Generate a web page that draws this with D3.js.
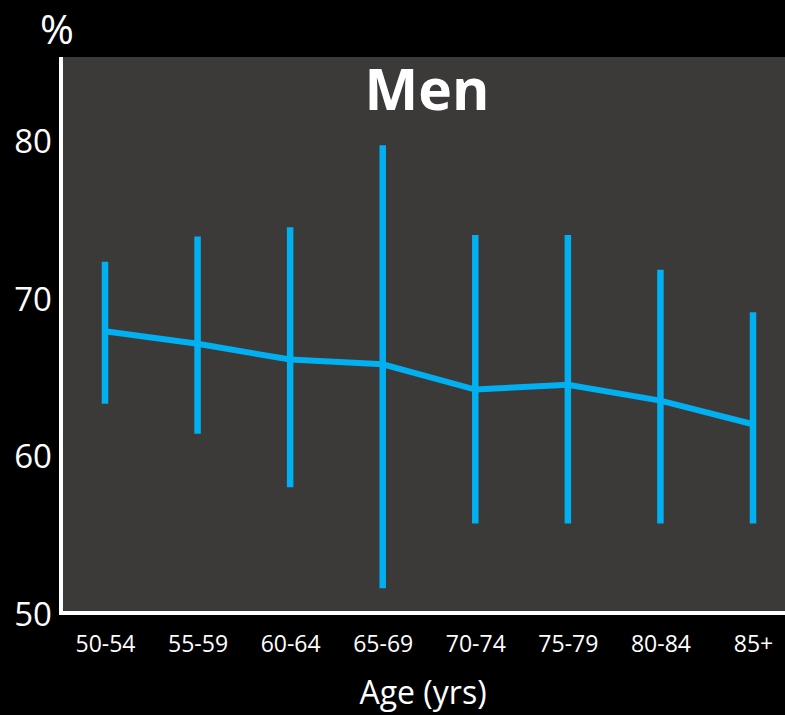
<!DOCTYPE html>
<html>
<head>
<meta charset="utf-8">
<script src="https://cdn.jsdelivr.net/npm/d3@7"></script>
<style>
    body { margin: 0; background: #000; }
    svg { display: block; }
</style>
</head>
<body>
<div id="chart"></div>
<script>
// chart data
const ageGroups = ['50-54', '55-59', '60-64', '65-69', '70-74', '75-79', '80-84', '85+'];
const meanValues = [68.0, 67.2, 66.2, 65.9, 64.3, 64.6, 63.6, 62.1];
const upperValues = [72.4, 74.0, 74.6, 79.8, 74.1, 74.1, 71.9, 69.2];
const lowerValues = [63.4, 61.5, 58.1, 51.7, 55.8, 55.8, 55.8, 55.8];
const yTicks = [50, 60, 70, 80];

const width = 785;
const height = 715;
const plot = { left: 61, right: 785, top: 57, bottom: 613 };
const blue = '#00b0f0';
const font = '"Open Sans", "DejaVu Sans", sans-serif';

const rows = ageGroups.map((a, i) => ({ age: a, mean: meanValues[i], hi: upperValues[i], lo: lowerValues[i] }));

const svg = d3.select('#chart').append('svg')
    .attr('width', width)
    .attr('height', height)
    .style('background-color', '#000');

const x = d3.scalePoint().domain(ageGroups).range([105, 753]);
const y = d3.scaleLinear().domain([50, 80]).range([615, 142]);

// plot background
svg.append('rect')
    .attr('x', plot.left)
    .attr('y', plot.top)
    .attr('width', plot.right - plot.left)
    .attr('height', plot.bottom - plot.top)
    .attr('fill', '#3b3a39');

// error bars
svg.append('g').selectAll('line')
    .data(rows)
    .join('line')
    .attr('x1', d => x(d.age))
    .attr('x2', d => x(d.age))
    .attr('y1', d => y(d.lo))
    .attr('y2', d => y(d.hi))
    .attr('stroke', blue)
    .attr('stroke-width', 6.5);

// mean line
const line = d3.line()
    .x(d => x(d.age))
    .y(d => y(d.mean));

svg.append('path')
    .datum(rows)
    .attr('d', line)
    .attr('fill', 'none')
    .attr('stroke', blue)
    .attr('stroke-width', 6);

// axes
const axisY = d3.axisLeft(y).tickValues(yTicks).tickSize(0).tickPadding(9);
const axisX = d3.axisBottom(x).tickSize(0).tickPadding(23);

const gy = svg.append('g')
    .attr('transform', `translate(${plot.left}, 0)`)
    .call(axisY);
gy.select('.domain').remove();
gy.selectAll('text')
    .attr('fill', '#fff')
    .style('font-family', font)
    .style('font-size', '33px');

const gx = svg.append('g')
    .attr('transform', `translate(0, ${plot.bottom})`)
    .call(axisX);
gx.select('.domain').remove();
gx.selectAll('text')
    .attr('fill', '#fff')
    .style('font-family', font)
    .style('font-size', '23px');

// axis lines
svg.append('line')
    .attr('x1', plot.left).attr('x2', plot.left)
    .attr('y1', plot.top).attr('y2', plot.bottom + 2)
    .attr('stroke', '#fff').attr('stroke-width', 4);
svg.append('line')
    .attr('x1', plot.left - 2).attr('x2', plot.right)
    .attr('y1', plot.bottom).attr('y2', plot.bottom)
    .attr('stroke', '#fff').attr('stroke-width', 4);

// titles
svg.append('text')
    .attr('x', 427).attr('y', 110)
    .attr('text-anchor', 'middle')
    .attr('fill', '#fff')
    .style('font-family', font)
    .style('font-weight', 'bold')
    .style('font-size', '57px')
    .text('Men');

svg.append('text')
    .attr('x', 57).attr('y', 44)
    .attr('text-anchor', 'middle')
    .attr('fill', '#fff')
    .style('font-family', font)
    .style('font-size', '41px')
    .text('%');

svg.append('text')
    .attr('x', 423).attr('y', 704)
    .attr('text-anchor', 'middle')
    .attr('fill', '#fff')
    .style('font-family', font)
    .style('font-size', '32px')
    .text('Age (yrs)');
</script>
</body>
</html>
